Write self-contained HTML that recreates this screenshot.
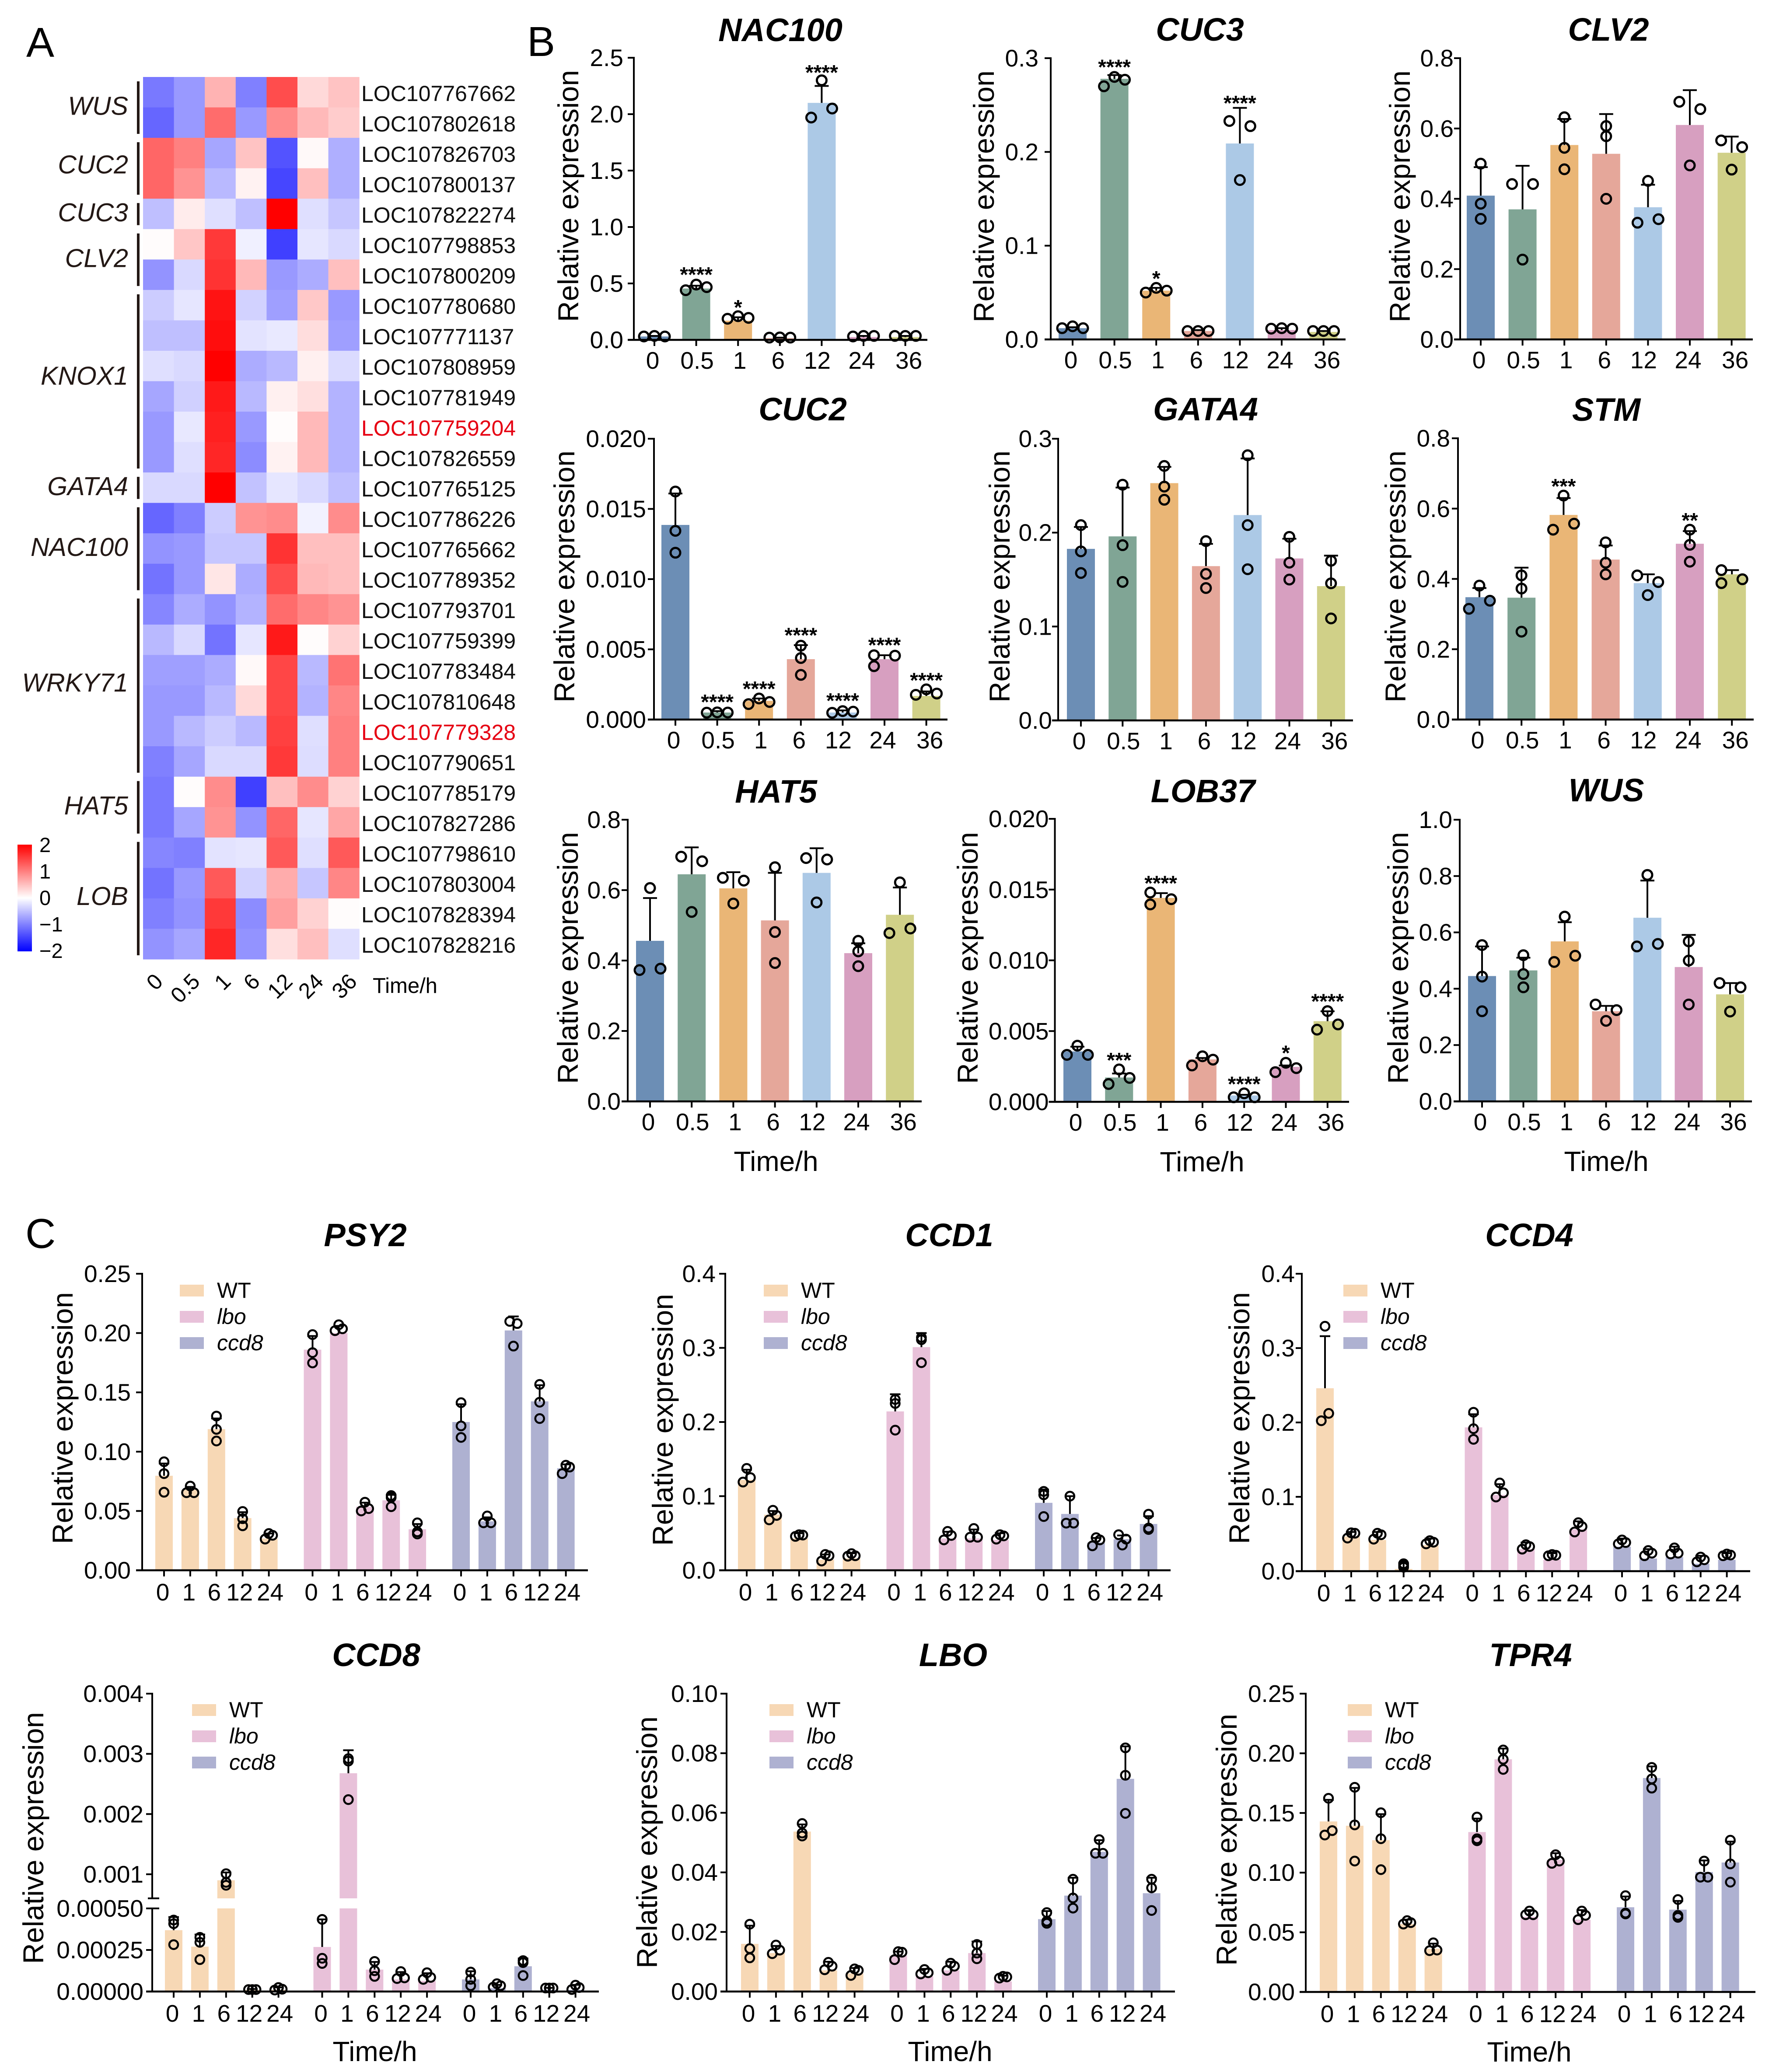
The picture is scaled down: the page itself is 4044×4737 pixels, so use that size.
<!DOCTYPE html>
<html lang="en">
<head>
<meta charset="utf-8">
<title>Expression heatmap and qPCR bar charts</title>
<style>
html,body{margin:0;padding:0;background:#fff;}
svg{display:block;font-family:"Liberation Sans",sans-serif;}
</style>
</head>
<body>
<svg id="figure" xmlns="http://www.w3.org/2000/svg" width="4044" height="4737" viewBox="0 0 4044 4737">
<defs>
<linearGradient id="cbar" x1="0" y1="0" x2="0" y2="1">
<stop offset="0" stop-color="#ff0000"/><stop offset="0.5" stop-color="#ffffff"/><stop offset="1" stop-color="#0000ff"/>
</linearGradient>
</defs>
<rect x="0" y="0" width="4044" height="4737" fill="#ffffff"/>
<text x="60" y="130" font-size="96">A</text>
<text x="1205" y="128" font-size="96">B</text>
<text x="58" y="2853" font-size="96">C</text>
</svg>
<script>
/* ---------- Heatmap data ---------- */
const heatTimes = ['0','0.5','1','6','12','24','36'];
const heatGenes = ['LOC107767662','LOC107802618','LOC107826703','LOC107800137','LOC107822274','LOC107798853','LOC107800209','LOC107780680','LOC107771137','LOC107808959','LOC107781949','LOC107759204','LOC107826559','LOC107765125','LOC107786226','LOC107765662','LOC107789352','LOC107793701','LOC107759399','LOC107783484','LOC107810648','LOC107779328','LOC107790651','LOC107785179','LOC107827286','LOC107798610','LOC107803004','LOC107828394','LOC107828216'];
const heatHighlighted = ['LOC107759204','LOC107779328'];
const heatValues = [
[-1.05,-0.8,0.6,-1.0,1.4,0.3,0.47],
[-1.2,-0.8,1.15,-0.8,0.9,0.55,0.4],
[1.2,1.0,-0.7,0.47,-1.35,0.05,-0.63],
[1.2,0.85,-0.55,0.1,-1.45,0.5,-0.63],
[-0.5,0.15,-0.25,-0.5,2,-0.25,-0.45],
[0.02,0.45,1.55,-0.12,-1.5,-0.2,-0.3],
[-0.85,-0.3,1.6,0.55,-0.8,-0.65,0.5],
[-0.4,-0.2,1.85,-0.35,-0.75,0.43,-0.8],
[-0.5,-0.5,1.9,-0.22,-0.17,0.27,-0.75],
[-0.25,-0.3,2,-0.65,-0.55,0.12,-0.28],
[-0.7,-0.37,1.8,-0.55,0.12,0.25,-0.6],
[-0.8,-0.18,1.75,-0.8,0.02,0.55,-0.6],
[-0.8,-0.25,1.7,-0.9,0.1,0.55,-0.6],
[-0.3,-0.3,2,-0.48,-0.2,-0.3,-0.5],
[-1.2,-1.0,-0.4,0.85,0.9,-0.1,0.9],
[-0.85,-0.8,-0.45,-0.45,1.6,0.5,0.5],
[-1.1,-0.8,0.2,-0.65,1.4,0.55,0.5],
[-0.95,-0.65,-0.85,-0.6,1.15,0.95,0.85],
[-0.55,-0.3,-1.1,-0.2,1.8,0.02,0.35],
[-0.75,-0.75,-0.65,0.05,1.45,-0.55,1.1],
[-0.8,-0.8,-0.55,0.3,1.45,-0.6,0.95],
[-0.8,-0.55,-0.4,-0.55,1.5,-0.25,1.0],
[-1,-0.7,-0.3,-0.3,1.55,-0.27,1.0],
[-1.05,0.02,0.9,-1.5,0.5,0.9,0.35],
[-1.05,-0.7,0.85,-0.85,1.2,-0.2,0.7],
[-0.95,-1.0,-0.22,-0.2,1.3,-0.25,1.3],
[-1.1,-0.8,1.3,-0.35,0.65,-0.45,0.95],
[-1,-0.85,1.55,-0.9,0.75,0.35,0.02],
[-0.85,-0.7,1.7,-0.85,0.25,0.5,-0.25]
];
const groupNames = ['WUS','CUC2','CUC3','CLV2','KNOX1','GATA4','NAC100','WRKY71','HAT5','LOB'];
const groupRowCounts = [2,2,1,2,6,1,3,6,2,4];
const colorbarTicks = [2,1,0,-1,-2];

/* ---------- Panel B shared ---------- */
const timesB = ['0','0.5','1','6','12','24','36'];
const barPalette = ['#6c8eb5','#80a595','#eab676','#e5a79a','#acc9e6','#d79fc0','#d0d088'];

/* ---------- NAC100 ---------- */
const nac100Ticks = ['0.0','0.5','1.0','1.5','2.0','2.5'];
const nac100Means = [0.03,0.455,0.17,0.015,2.1,0.025,0.025];
const nac100Errs = [0.035,0.48,0.2,0.02,2.25,0.035,0.035];
const nac100Pts = [[0.03,0.035,0.03],[0.44,0.49,0.467],[0.187,0.21,0.195],[0.02,0.02,0.022],[1.97,2.3,2.05],[0.03,0.035,0.035],[0.035,0.035,0.035]];
const nac100Stars = ['','****','*','','****','',''];
const nac100StarLevels = [0,0.62,0.33,0,2.41,0,0];
/* ---------- CUC3 ---------- */
const cuc3Ticks = ['0.0','0.1','0.2','0.3'];
const cuc3Means = [0.012,0.278,0.052,0.009,0.209,0.01,0.008];
const cuc3Errs = [0.013,0.282,0.055,0.01,0.247,0.012,0.009];
const cuc3Pts = [[0.012,0.014,0.012],[0.27,0.28,0.277],[0.05,0.055,0.052],[0.009,0.009,0.009],[0.233,0.2275,0.17],[0.0115,0.012,0.0115],[0.009,0.009,0.009]];
const cuc3Stars = ['','****','*','','****','',''];
const cuc3StarLevels = [0,0.2956,0.07,0,0.257,0,0];
/* ---------- CLV2 ---------- */
const clv2Ticks = ['0.0','0.2','0.4','0.6','0.8'];
const clv2Means = [0.409,0.37,0.553,0.528,0.376,0.61,0.531];
const clv2Errs = [0.49,0.494,0.627,0.641,0.44,0.709,0.577];
const clv2Pts = [[0.5,0.386,0.343],[0.442,0.442,0.227],[0.632,0.545,0.484],[0.607,0.578,0.4],[0.451,0.332,0.342],[0.676,0.655,0.495],[0.566,0.547,0.483]];
/* ---------- CUC2 ---------- */
const cuc2Ticks = ['0.000','0.005','0.010','0.015','0.020'];
const cuc2Means = [0.01386,0.0005,0.00133,0.0043,0.0005,0.0043,0.00168];
const cuc2Errs = [0.0161,0.0006,0.0015,0.0053,0.00065,0.00458,0.002];
const cuc2Pts = [[0.01624,0.01344,0.01188],[0.0005,0.00049,0.00051],[0.0011,0.0015,0.00125],[0.00526,0.00438,0.00318],[0.00048,0.00056,0.0006],[0.00458,0.00455,0.0038],[0.00176,0.00215,0.00185]];
const cuc2Stars = ['','****','****','****','****','****','****'];
const cuc2StarLevels = [0,0.00159,0.00253,0.00634,0.00168,0.00564,0.00313];
/* ---------- GATA4 ---------- */
const gata4Ticks = ['0.0','0.1','0.2','0.3'];
const gata4Means = [0.1827,0.196,0.2527,0.1643,0.2187,0.1725,0.143];
const gata4Errs = [0.206,0.248,0.27,0.188,0.279,0.1935,0.1755];
const gata4Pts = [[0.208,0.18,0.157],[0.251,0.1866,0.1475],[0.271,0.249,0.235],[0.191,0.156,0.141],[0.2824,0.208,0.161],[0.1955,0.168,0.15],[0.17,0.146,0.1086]];
/* ---------- STM ---------- */
const stmTicks = ['0.0','0.2','0.4','0.6','0.8'];
const stmMeans = [0.348,0.3466,0.582,0.455,0.388,0.5,0.413];
const stmErrs = [0.374,0.432,0.63,0.495,0.413,0.536,0.425];
const stmPts = [[0.381,0.315,0.338],[0.41,0.3725,0.25],[0.637,0.54,0.557],[0.504,0.446,0.413],[0.41,0.391,0.354],[0.54,0.497,0.449],[0.425,0.399,0.388]];
const stmStars = ['','','***','','','**',''];
const stmStarLevels = [0,0,0.677,0,0,0.58,0];
/* ---------- HAT5 ---------- */
const hat5Ticks = ['0.0','0.2','0.4','0.6','0.8'];
const hat5Means = [0.456,0.645,0.605,0.514,0.649,0.421,0.53];
const hat5Errs = [0.5775,0.7215,0.651,0.649,0.719,0.449,0.6075];
const hat5Pts = [[0.606,0.373,0.377],[0.695,0.682,0.538],[0.635,0.627,0.562],[0.665,0.481,0.393],[0.691,0.687,0.565],[0.456,0.426,0.384],[0.622,0.478,0.491]];
/* ---------- LOB37 ---------- */
const lob37Ticks = ['0.000','0.005','0.010','0.015','0.020'];
const lob37Means = [0.00356,0.00172,0.01441,0.003,0.00045,0.00247,0.0057];
const lob37Errs = [0.0039,0.002,0.01475,0.0031,0.0005,0.00257,0.0064];
const lob37Pts = [[0.00397,0.00332,0.00332],[0.00229,0.00126,0.00169],[0.01479,0.01432,0.01395],[0.00322,0.00257,0.00298],[0.0006,0.00032,0.00032],[0.00276,0.0021,0.00238],[0.00641,0.0051,0.00547]];
const lob37Stars = ['','***','****','','****','*','****'];
const lob37StarLevels = [0,0.00328,0.01578,0,0.00159,0.00379,0.00744];
/* ---------- WUS ---------- */
const wusTicks = ['0.0','0.2','0.4','0.6','0.8','1.0'];
const wusMeans = [0.445,0.465,0.568,0.32,0.652,0.477,0.38];
const wusErrs = [0.55,0.51,0.636,0.339,0.784,0.591,0.42];
const wusPts = [[0.555,0.443,0.32],[0.519,0.452,0.405],[0.656,0.495,0.517],[0.344,0.324,0.286],[0.804,0.55,0.559],[0.568,0.5,0.344],[0.42,0.405,0.319]];

/* ---------- Panel C shared ---------- */
const timesC = ['0','1','6','12','24'];
const seriesNames = ['WT','lbo','ccd8'];
const seriesPalette = ['#f7d8b5','#e8c1d9','#aeb1d1'];

/* ---------- PSY2 ---------- */
const psy2Ticks = ['0.00','0.05','0.10','0.15','0.20','0.25'];
const psy2Means = [0.0797,0.068,0.119,0.044,0.0268,0.186,0.2,0.0536,0.059,0.0346,0.125,0.0413,0.2022,0.1424,0.086];
const psy2Errs = [0.09,0.0703,0.128,0.049,0.031,0.1975,0.206,0.057,0.0636,0.039,0.14,0.0446,0.214,0.156,0.0893];
const psy2Pts = [[0.0915,0.0815,0.0658],[0.0654,0.0654,0.071],[0.13,0.1188,0.109],[0.0496,0.0435,0.0375],[0.0263,0.031,0.0295],[0.1987,0.1835,0.1748],[0.202,0.207,0.2036],[0.052,0.05,0.0574],[0.063,0.0614,0.0536],[0.04,0.0324,0.0306],[0.1413,0.1217,0.112],[0.04,0.04,0.0458],[0.208,0.2098,0.189],[0.1567,0.1417,0.1279],[0.0815,0.087,0.0886]];
/* ---------- CCD1 ---------- */
const ccd1Ticks = ['0.0','0.1','0.2','0.3','0.4'];
const ccd1Means = [0.122,0.075,0.043,0.0143,0.016,0.2143,0.301,0.043,0.043,0.041,0.091,0.076,0.0375,0.042,0.0625];
const ccd1Errs = [0.1357,0.08,0.05,0.0214,0.023,0.2375,0.32,0.052,0.055,0.05,0.109,0.1,0.0436,0.047,0.073];
const ccd1Pts = [[0.1375,0.119,0.125],[0.081,0.074,0.068],[0.048,0.0475,0.0457],[0.0214,0.0196,0.0125],[0.0225,0.0196,0.019],[0.2304,0.225,0.189],[0.314,0.311,0.28],[0.0525,0.047,0.041],[0.0564,0.0446,0.0446],[0.048,0.0464,0.042],[0.1064,0.1018,0.0725],[0.1,0.0636,0.0636],[0.044,0.041,0.033],[0.048,0.042,0.034],[0.0757,0.057,0.055]];
/* ---------- CCD4 ---------- */
const ccd4Ticks = ['0.0','0.1','0.2','0.3','0.4'];
const ccd4Means = [0.246,0.0467,0.042,0.003,0.035,0.1934,0.1026,0.0296,0.0153,0.0563,0.033,0.017,0.019,0.01,0.0153];
const ccd4Errs = [0.316,0.0527,0.0527,0.011,0.0438,0.211,0.117,0.0385,0.0242,0.067,0.0438,0.0296,0.033,0.0207,0.0242];
const ccd4Pts = [[0.3294,0.2023,0.2122],[0.051,0.0516,0.0445],[0.051,0.049,0.043],[0.01,0.0075,0.0053],[0.041,0.039,0.0367],[0.2137,0.1916,0.1773],[0.1186,0.1054,0.0997],[0.0356,0.0331,0.0296],[0.0224,0.0214,0.0207],[0.0652,0.06,0.0527],[0.042,0.0385,0.0367],[0.0278,0.0242,0.0207],[0.0313,0.0242,0.0231],[0.019,0.0153,0.0125],[0.0231,0.0217,0.0207]];
/* ---------- CCD8 (broken axis) ---------- */
const ccd8Ticks = ['0.00000','0.00025','0.00050','0.001','0.002','0.003','0.004'];
const ccd8Means = [0.000369,0.00027,0.0009,0.00001,0.00001,0.000268,0.002678,0.000132,0.000073,0.000064,0.000073,0.00002,0.000152,0.00001,0.00001];
const ccd8Errs = [0.000448,0.000343,0.00103,0.000015,0.000025,0.000434,0.00306,0.000178,0.000117,0.00011,0.000122,0.00004,0.000199,0.000022,0.00004];
const ccd8Pts = [[0.00043,0.000408,0.000282],[0.000326,0.000296,0.000192],[0.00101,0.000865,0.000817],[0.000012,0.000012,0.000012],[0.000024,0.000009,0.000014],[0.000434,0.0002,0.000169],[0.00292,0.00288,0.00224],[0.000181,0.000125,0.000091],[0.00012,0.000082,0.000078],[0.000113,0.000085,0.000073],[0.000117,0.000073,0.000035],[0.000047,0.000035,0.000026],[0.000186,0.000174,0.000096],[0.000021,0.000021,0.000021],[0.000038,0.000024,0.000012]];
/* ---------- LBO ---------- */
const lboTicks = ['0.00','0.02','0.04','0.06','0.08','0.10'];
const lboMeans = [0.016,0.0129,0.0537,0.0071,0.0061,0.012,0.0051,0.0071,0.0129,0.0034,0.0243,0.0322,0.0469,0.0714,0.033];
const lboErrs = [0.0221,0.0153,0.0561,0.01,0.0079,0.0134,0.0076,0.01,0.0168,0.0053,0.027,0.0382,0.0508,0.0823,0.0382];
const lboPts = [[0.0226,0.0144,0.0113],[0.0156,0.0139,0.0127],[0.0564,0.0522,0.0532],[0.0098,0.0085,0.0073],[0.0076,0.0071,0.0054],[0.0132,0.0134,0.0107],[0.0074,0.0063,0.0059],[0.0095,0.0085,0.0071],[0.0158,0.0129,0.011],[0.0051,0.0049,0.0045],[0.0265,0.0236,0.0229],[0.0377,0.0314,0.028],[0.051,0.0464,0.0464],[0.0818,0.0726,0.0598],[0.0377,0.0348,0.0272]];
/* ---------- TPR4 ---------- */
const tpr4Ticks = ['0.00','0.05','0.10','0.15','0.20','0.25'];
const tpr4Means = [0.1429,0.1393,0.1272,0.0569,0.0363,0.134,0.195,0.063,0.1107,0.0606,0.071,0.1793,0.069,0.1005,0.1085];
const tpr4Errs = [0.161,0.171,0.149,0.0606,0.0405,0.1453,0.204,0.0686,0.1163,0.0686,0.08,0.189,0.0763,0.1102,0.126];
const tpr4Pts = [[0.1623,0.1352,0.1315],[0.1715,0.14,0.1097],[0.1502,0.1284,0.1025],[0.0581,0.0569,0.0598],[0.0412,0.0351,0.0346],[0.1466,0.1284,0.1267],[0.2028,0.195,0.1865],[0.0678,0.0647,0.0647],[0.115,0.1078,0.1097],[0.0678,0.0642,0.0606],[0.0807,0.0661,0.0654],[0.1882,0.1785,0.1708],[0.0775,0.0642,0.0625],[0.1097,0.0962,0.0962],[0.1272,0.1073,0.092]];

/* ---------- Drawing helpers ---------- */
const svg = document.getElementById('figure');
const NS = 'http://www.w3.org/2000/svg';
function shape(tag, attrs, parent) {
  const el = document.createElementNS(NS, tag);
  for (const k in attrs) el.setAttribute(k, attrs[k]);
  (parent || svg).appendChild(el);
  return el;
}
function label(str, x, y, size, extra, parent) {
  const el = shape('text', Object.assign({x: x, y: y, 'font-size': size}, extra || {}), parent);
  el.textContent = str;
  return el;
}

/* ---------- Heatmap ---------- */
const heatLeft = 327, heatTop = 176, cellW = 70.6, cellH = 69.55;
const heatTickNudge = [-12, 2, 2, -2, 2, 2, 8];
const groupLabelNudge = [0, -5, 0, 0, -9, 0, 0, -3, 0, -2];
function heatX(c) { return heatLeft + c * cellW; }
function heatY(r) { return heatTop + r * cellH; }
function heatColor(v) {
  const t = Math.min(1, Math.abs(v) / 2);
  const m = Math.round(255 * (1 - t));
  return v >= 0 ? 'rgb(255,' + m + ',' + m + ')' : 'rgb(' + m + ',' + m + ',255)';
}
const heatGroup = shape('g', {});


heatValues.forEach(function (row, r) {
  row.forEach(function (v, c) {
    const cell = shape('rect', {x: heatX(c), y: heatY(r), width: cellW + 0.5, height: cellH + 0.5, fill: heatColor(v)}, heatGroup);
    
    
  });
  const name = heatGenes[r];
  const geneLabel = label(name, 826, heatY(r) + cellH / 2 + 20, 50, {fill: heatHighlighted.includes(name) ? '#e60012' : '#111111'});
  
  
});
heatTimes.forEach(function (t, c) {
  const px = heatX(c) + cellW / 2 + 25 + heatTickNudge[c], py = 2247;
  const tick = label(t, px, py, 50, {'text-anchor': 'end', transform: 'rotate(-45 ' + px + ' ' + py + ')'});
  
  
});
const heatAxisTitle = label('Time/h', 852, 2270, 49);


let groupRow = 0;
groupNames.forEach(function (g, i) {
  const start = groupRow, end = groupRow + groupRowCounts[i];
  groupRow = end;
  const bracket = shape('rect', {x: 313, y: heatY(start) + 10, width: 6, height: heatY(end) - heatY(start) - 19, fill: '#231815'});
  
  
  const groupLabel = label(g, 293, (heatY(start) + heatY(end)) / 2 - 4 + 21 + groupLabelNudge[i], 59, {'text-anchor': 'end', 'font-style': 'italic', fill: '#231815'});
  
  
});
const cbar = shape('rect', {x: 40, y: 1931, width: 33, height: 244, fill: 'url(#cbar)'});


colorbarTicks.forEach(function (v) {
  const txt = label(v < 0 ? '\u2212' + (-v) : String(v), 90, 2052 - v * 60.5 + 17, 47);
  
  
});

/* ---------- Point layout: close replicates are pushed sideways ---------- */
function pointOffsets(ys, d, pairT, tripleT) {
  const order = [0, 1, 2].sort(function (p, q) { return ys[p] - ys[q]; });
  const a = order[0], b = order[1], c = order[2];
  const off = [0, 0, 0];
  if (ys[c] - ys[a] < tripleT || ys[c] - ys[b] < pairT) {
    off[b] = d; off[c] = -d;
  } else if (ys[b] - ys[a] < pairT) {
    off[a] = -d; off[b] = d;
  }
  return off;
}

/* ---------- Generic chart ---------- */
function drawChart(c) {
  const g = shape('g', {});
  
  
  const tickValues = c.ticks.map(parseFloat);
  const maxV = tickValues[tickValues.length - 1];
  const yOf = c.yScale || function (v) { return c.base - (v / maxV) * (c.base - c.top); };
  const xOf = c.xScale;
  const inBroken = !!c.brokenLow;
  const jitter = c.jitter || {};

  c.means.forEach(function (m, i) {
    const x = xOf(i), w = c.barW;
    if (inBroken && m > c.brokenLow) {
      const low = shape('rect', {x: x - w / 2, y: yOf(c.brokenLow), width: w, height: c.base - yOf(c.brokenLow), fill: c.color(i)}, g);
      
      
      const up = shape('rect', {x: x - w / 2, y: yOf(m), width: w, height: yOf(c.brokenHigh) - yOf(m), fill: c.color(i)}, g);
      
      
    } else {
      const bar = shape('rect', {x: x - w / 2, y: yOf(m), width: w, height: c.base - yOf(m), fill: c.color(i)}, g);
      
      
    }
    const ey = yOf(c.errs[i]);
    const stem = shape('line', {x1: x, x2: x, y1: yOf(m), y2: ey, stroke: '#000', 'stroke-width': 4}, g);
    
    
    const cap = shape('line', {x1: x - c.capW / 2, x2: x + c.capW / 2, y1: ey, y2: ey, stroke: '#000', 'stroke-width': 4}, g);
    
    
    const ys = c.pts[i].map(yOf);
    const offs = jitter[i] ? jitter[i].map(function (k) { return k * c.spread; }) : pointOffsets(ys, c.spread, c.pairT, c.tripleT);
    ys.forEach(function (py, k) {
      const dot = shape('circle', {cx: x + offs[k], cy: py, r: c.dotR, fill: 'none', stroke: '#000', 'stroke-width': c.dotS}, g);
      
      
    });
    if (c.stars && c.stars[i]) {
      const star = label(c.stars[i], x, yOf(c.starLevels[i]) + 27, 48, {'text-anchor': 'middle', 'font-weight': 'bold'}, g);
      
      
    }
    const tickLine = shape('line', {x1: x, x2: x, y1: c.base, y2: c.base + 14, stroke: '#000', 'stroke-width': 4}, g);
    
    
    const tl = label(c.cats[i % c.cats.length], x + c.nudge[i % c.nudge.length], c.base + c.xLabelDrop + 19, 55, {'text-anchor': 'middle'}, g);
    
    
  });

  if (inBroken) {
    const axLow = shape('line', {x1: c.axis, x2: c.axis, y1: c.base + 2, y2: yOf(c.brokenLow), stroke: '#000', 'stroke-width': 4}, g);
    
    
    const axUp = shape('line', {x1: c.axis, x2: c.axis, y1: yOf(c.brokenHigh), y2: c.top - 2, stroke: '#000', 'stroke-width': 4}, g);
    
    
    [c.brokenLow, c.brokenHigh].forEach(function (v) {
      const br = shape('line', {x1: c.axis - 10, x2: c.axis + 16, y1: yOf(v), y2: yOf(v), stroke: '#000', 'stroke-width': 4}, g);
      
      
    });
  } else {
    const axY = shape('line', {x1: c.axis, x2: c.axis, y1: c.base + 2, y2: c.top - 2, stroke: '#000', 'stroke-width': 4}, g);
    
    
  }
  const axX = shape('line', {x1: c.axis - 14, x2: c.right, y1: c.base, y2: c.base, stroke: '#000', 'stroke-width': 4.5}, g);
  
  

  c.ticks.forEach(function (t, i) {
    const y = yOf(tickValues[i]);
    const yt = shape('line', {x1: c.axis - 14, x2: c.axis, y1: y, y2: y, stroke: '#000', 'stroke-width': 4}, g);
    
    
    const yl = label(t, c.axis - c.gap, y + 19, 55, {'text-anchor': 'end'}, g);
    
    
  });

  const title = label(c.gene, c.titleX, c.titleY + 26, 74, {'text-anchor': 'middle', 'font-weight': 'bold', 'font-style': 'italic'}, g);
  
  

  const ytx = c.yTitleX + 23;
  const yTitle = label('Relative expression', ytx, c.yTitleY, 66, {'text-anchor': 'middle', transform: 'rotate(-90 ' + ytx + ' ' + c.yTitleY + ')'}, g);
  
  

  if (c.xTitleX) {
    const xTitle = label('Time/h', c.xTitleX, c.base + 136 + 23, 64, {'text-anchor': 'middle'}, g);
    
    
  }

  if (c.legendX) {
    seriesNames.forEach(function (s, i) {
      const sy = c.legendY + i * 60;
      const sw = shape('rect', {x: c.legendX, y: sy, width: 55, height: 27, fill: seriesPalette[i]}, g);
      
      
      const lt = label(s, c.legendX + 85, sy + 13 + 17, 50, i === 0 ? {} : {'font-style': 'italic'}, g);
      
      
    });
  }
}

/* ---------- Panel B ---------- */
const bNudge = [-4, 2, 4, -4, -10, -4, 8];
function chartB(o) {
  const sp = o.spacing || 95.6;
  drawChart(Object.assign({
    cats: timesB, nudge: bNudge, barW: 64, capW: 32, dotR: 11, dotS: 5,
    spread: 24, pairT: 23, tripleT: 36, xLabelDrop: 47,
    color: function (i) { return barPalette[i]; },
    xScale: function (i) { return o.first + i * sp; }
  }, o));
}
chartB({gene:'NAC100', ticks:nac100Ticks, means:nac100Means, errs:nac100Errs, pts:nac100Pts, stars:nac100Stars, starLevels:nac100StarLevels, axis:1449, top:132, base:777, first:1496, right:2120, gap:24, titleX:1784, titleY:68, yTitleX:1299, yTitleY:448});
chartB({gene:'CUC3', ticks:cuc3Ticks, means:cuc3Means, errs:cuc3Errs, pts:cuc3Pts, stars:cuc3Stars, starLevels:cuc3StarLevels, axis:2402, top:133, base:776, first:2452, right:3076, gap:28, titleX:2743, titleY:67, yTitleX:2249, yTitleY:449});
chartB({gene:'CLV2', ticks:clv2Ticks, means:clv2Means, errs:clv2Errs, pts:clv2Pts, axis:3338, top:133, base:776, first:3385, right:4007, gap:15, titleX:3677, titleY:67, yTitleX:3200, yTitleY:449, spacing:95.6});
chartB({gene:'CUC2', ticks:cuc2Ticks, means:cuc2Means, errs:cuc2Errs, pts:cuc2Pts, stars:cuc2Stars, starLevels:cuc2StarLevels, jitter:{5:[-1,1,-1]}, axis:1495, top:1003, base:1645, first:1544, right:2166, gap:18, titleX:1835, titleY:935, yTitleX:1290, yTitleY:1318});
chartB({gene:'GATA4', ticks:gata4Ticks, means:gata4Means, errs:gata4Errs, pts:gata4Pts, axis:2419, top:1003, base:1647, first:2471, right:3093, gap:14, titleX:2756, titleY:935, yTitleX:2285, yTitleY:1318, spacing:95.3});
chartB({gene:'STM', ticks:stmTicks, means:stmMeans, errs:stmErrs, pts:stmPts, stars:stmStars, starLevels:stmStarLevels, jitter:{6:[-1,1,-1]}, axis:3333, top:1002, base:1645, first:3382, right:4009, gap:18, titleX:3672, titleY:936, yTitleX:3190, yTitleY:1318, spacing:96.2});
chartB({gene:'HAT5', ticks:hat5Ticks, means:hat5Means, errs:hat5Errs, pts:hat5Pts, axis:1435, top:1874, base:2518, first:1486, right:2107, gap:16, titleX:1774, titleY:1809, yTitleX:1298, yTitleY:2190, spacing:95.2, xTitleX:1774});
chartB({gene:'LOB37', ticks:lob37Ticks, means:lob37Means, errs:lob37Errs, pts:lob37Pts, stars:lob37Stars, starLevels:lob37StarLevels, jitter:{2:[-1,1,-1]}, axis:2411.5, top:1872, base:2519, first:2463, right:3084, gap:14, titleX:2750, titleY:1808, yTitleX:2212, yTitleY:2190, spacing:95.3, xTitleX:2748});
chartB({gene:'WUS', ticks:wusTicks, means:wusMeans, errs:wusErrs, pts:wusPts, axis:3337, top:1874, base:2518, first:3388, right:4005, gap:17, titleX:3672, titleY:1806, yTitleX:3196, yTitleY:2190, spacing:94.5, xTitleX:3672});

/* ---------- Panel C ---------- */
const cNudge = [-3, -3, -5, -7, 3];
function chartC(o) {
  drawChart(Object.assign({
    cats: timesC, nudge: cNudge, barW: 40, capW: 24, dotR: 10, dotS: 4.5,
    spread: 8.5, pairT: 12, tripleT: 22, xLabelDrop: 50,
    color: function (i) { return seriesPalette[Math.floor(i / 5)]; },
    xScale: function (i) { return o.first + i * 59.9 + Math.floor(i / 5) * 40; }
  }, o));
}
const stack = [0, 0, 0];
chartC({gene:'PSY2', ticks:psy2Ticks, means:psy2Means, errs:psy2Errs, pts:psy2Pts, jitter:{8:stack,9:stack}, axis:325, top:2912, base:3590, first:375, right:1344, gap:26, titleX:835, titleY:2823, yTitleX:143, yTitleY:3242, legendX:411, legendY:2937});
chartC({gene:'CCD1', ticks:ccd1Ticks, means:ccd1Means, errs:ccd1Errs, pts:ccd1Pts, jitter:{5:stack,6:stack,10:stack,14:stack}, axis:1658, top:2912, base:3590, first:1707, right:2676, gap:22, titleX:2170, titleY:2823, yTitleX:1515, yTitleY:3246, legendX:1746, legendY:2937});
chartC({gene:'CCD4', ticks:ccd4Ticks, means:ccd4Means, errs:ccd4Errs, pts:ccd4Pts, jitter:{0:[0,-1,1],3:stack}, axis:2976, top:2912, base:3592, first:3029, right:4001, gap:16, titleX:3496, titleY:2823, yTitleX:2833, yTitleY:3242, legendX:3071, legendY:2937});

/* CCD8 uses a broken y axis: two linear segments around the gap */
const ccd8Base = 4553, ccd8LowTop = 4363, ccd8LowV = 0.0005, ccd8HighV = 0.0006, ccd8HighBottom = 4340, ccd8Top = 3872, ccd8MaxV = 0.004;
function ccd8Y(v) {
  if (v <= ccd8LowV) return ccd8Base - (v / ccd8LowV) * (ccd8Base - ccd8LowTop);
  return ccd8HighBottom - ((v - ccd8HighV) / (ccd8MaxV - ccd8HighV)) * (ccd8HighBottom - ccd8Top);
}
chartC({gene:'CCD8', ticks:ccd8Ticks, means:ccd8Means, errs:ccd8Errs, pts:ccd8Pts, jitter:{0:stack,1:stack,2:stack,5:stack,6:stack,12:stack}, axis:348, top:ccd8Top, base:ccd8Base, first:397, right:1369, gap:20, titleX:860, titleY:3783, yTitleX:76, yTitleY:4202, xTitleX:857, legendX:439, legendY:3896, yScale:ccd8Y, brokenLow:ccd8LowV, brokenHigh:ccd8HighV});
chartC({gene:'LBO', ticks:lboTicks, means:lboMeans, errs:lboErrs, pts:lboPts, jitter:{2:stack,10:stack,14:stack}, axis:1661, top:3872, base:4553, first:1714, right:2686, gap:20, titleX:2179, titleY:3783, yTitleX:1479, yTitleY:4212, xTitleX:2172, legendX:1759, legendY:3896});
chartC({gene:'TPR4', ticks:tpr4Ticks, means:tpr4Means, errs:tpr4Errs, pts:tpr4Pts, jitter:{5:stack,10:stack,12:stack}, axis:2985, top:3872, base:4554, first:3037, right:4013, gap:25, titleX:3499, titleY:3783, yTitleX:2804, yTitleY:4206, xTitleX:3496, legendX:3081, legendY:3896});
</script>
</body>
</html>
